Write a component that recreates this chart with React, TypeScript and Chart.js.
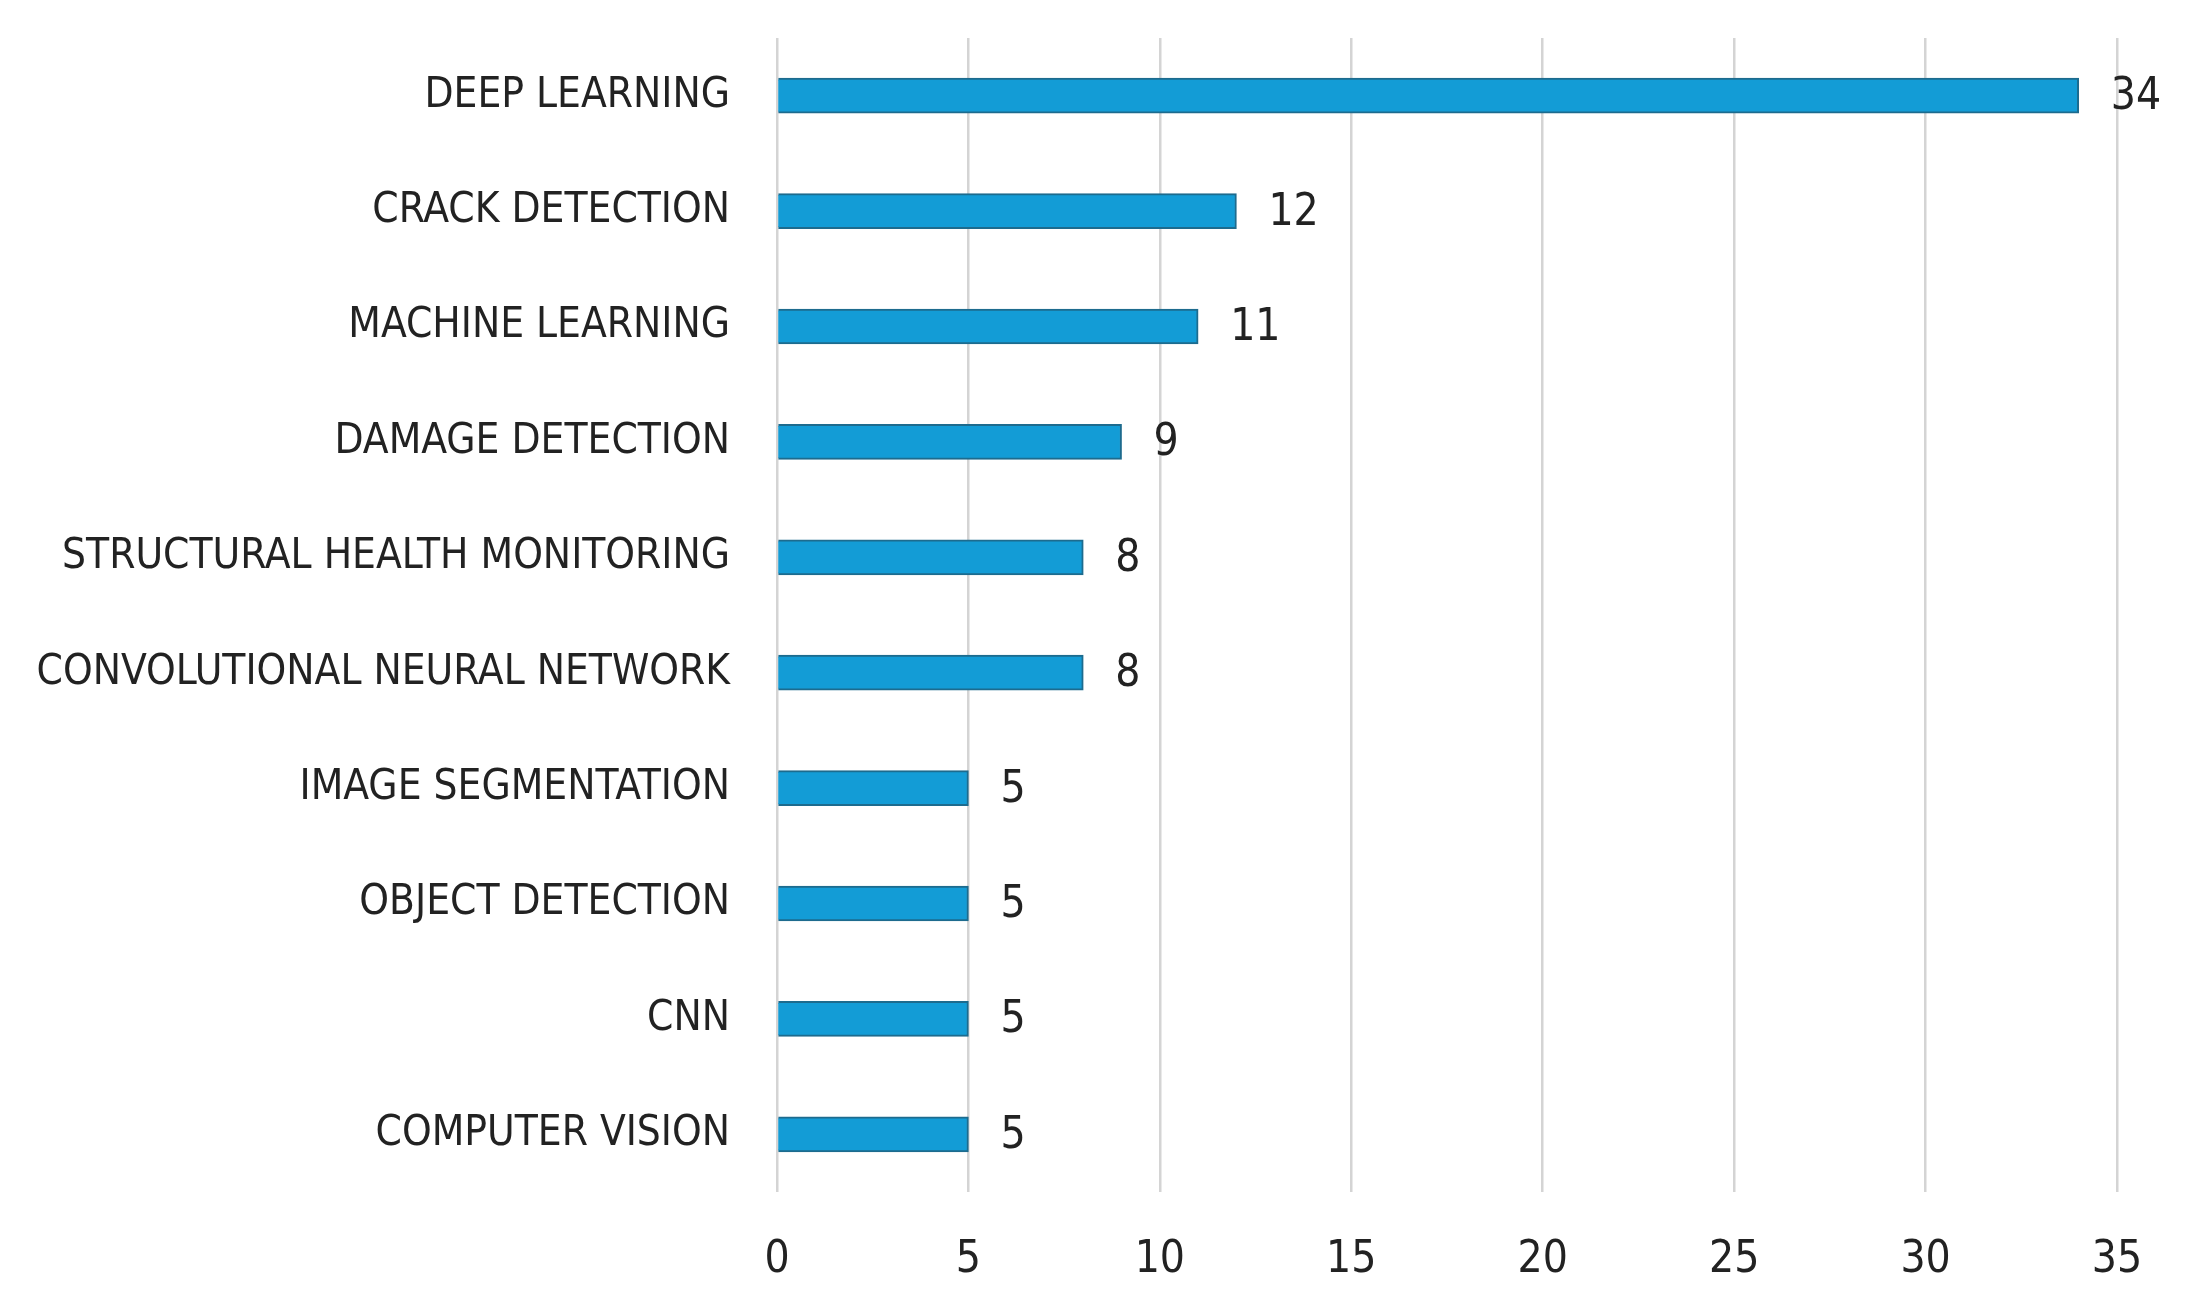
import { useEffect, useRef } from 'react';
import Chart from 'chart.js/auto';

// keyword frequency, horizontal bars
const KEYWORDS = [
  'DEEP LEARNING',
  'CRACK DETECTION',
  'MACHINE LEARNING',
  'DAMAGE DETECTION',
  'STRUCTURAL HEALTH MONITORING',
  'CONVOLUTIONAL NEURAL NETWORK',
  'IMAGE SEGMENTATION',
  'OBJECT DETECTION',
  'CNN',
  'COMPUTER VISION',
];
const COUNTS = [34, 12, 11, 9, 8, 8, 5, 5, 5, 5];
const X_MAX = 35;
const X_STEP = 5;

const FONT = "'DejaVu Sans Condensed', 'Liberation Sans Narrow', 'Noto Sans', sans-serif";
const TEXT = '#222222';
const GRID = '#d4d4d4';

const valueLabels = {
  id: 'valueLabels',
  afterDatasetsDraw(chart: Chart) {
    const { ctx } = chart;
    const meta = chart.getDatasetMeta(0);
    ctx.save();
    ctx.font = `44px ${FONT}`;
    ctx.fillStyle = TEXT;
    ctx.textAlign = 'left';
    ctx.textBaseline = 'middle';
    meta.data.forEach((bar: any, i: number) => {
      ctx.fillText(String(COUNTS[i]), bar.x + 32, bar.y + 2);
    });
    ctx.restore();
  },
};

export default function App() {
  const canvasRef = useRef<HTMLCanvasElement | null>(null);

  useEffect(() => {
    const el = canvasRef.current;
    if (!el) return;

    const chart = new Chart(el, {
      type: 'bar',
      data: {
        labels: KEYWORDS,
        datasets: [
          {
            data: COUNTS,
            backgroundColor: '#139cd6',
            borderColor: '#1d6b8e',
            borderWidth: 2,
            barThickness: 35,
          },
        ],
      },
      options: {
        indexAxis: 'y',
        animation: false,
        responsive: true,
        maintainAspectRatio: false,
        layout: { padding: { top: 38, right: 70, left: 0, bottom: 0 } },
        scales: {
          x: {
            min: 0,
            max: X_MAX,
            ticks: {
              stepSize: X_STEP,
              color: TEXT,
              padding: 42,
              font: { family: FONT, size: 44 },
            },
            grid: { color: GRID, lineWidth: 2.5, drawTicks: false },
            border: { display: false },
            afterFit: (s: any) => {
              s.height = 122;
            },
          },
          y: {
            ticks: {
              color: TEXT,
              padding: 47,
              font: { family: FONT, size: 42 },
            },
            grid: { display: false, drawTicks: false },
            border: { display: false },
            afterFit: (s: any) => {
              s.width = 777;
              s.paddingTop = 0;
              s.paddingBottom = 0;
            },
          },
        },
        plugins: {
          legend: { display: false },
          tooltip: { enabled: false },
        },
      },
      plugins: [valueLabels],
    });

    return () => chart.destroy();
  }, []);

  return (
    <div style={{ width: 2187, height: 1314, background: '#ffffff' }}>
      <style>{'body{margin:0}'}</style>
      <canvas ref={canvasRef} />
    </div>
  );
}
